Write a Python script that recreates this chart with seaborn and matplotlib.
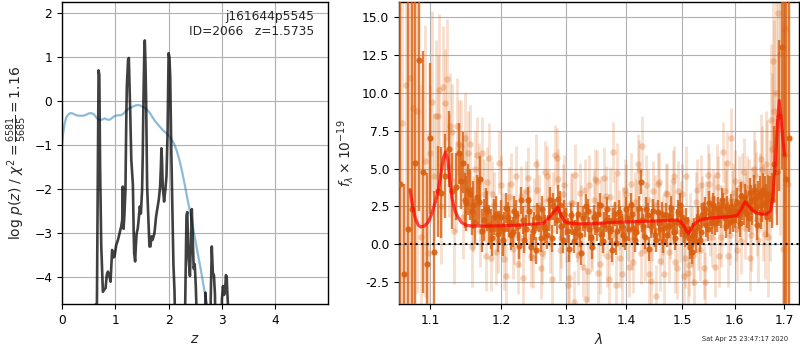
import numpy as np
import pandas as pd
import matplotlib
matplotlib.use("Agg")
import matplotlib.pyplot as plt
import seaborn as sns
from matplotlib.ticker import FixedLocator, FormatStrFormatter, NullLocator

# --- p(z) panel ---
z_pz = [0.00, 0.60, 0.63, 0.655, 0.670, 0.686, 0.700, 0.715, 0.736, 0.767, 0.790, 0.817,
        0.840, 0.861, 0.885, 0.911, 0.940, 0.965, 0.985, 1.017, 1.050, 1.080, 1.110, 1.130,
        1.140, 1.155, 1.170, 1.190, 1.205, 1.216, 1.240, 1.254, 1.270, 1.279, 1.300, 1.330,
        1.345, 1.354, 1.372, 1.385, 1.400, 1.420, 1.435, 1.460, 1.480, 1.503, 1.515, 1.528,
        1.545, 1.553, 1.565, 1.578, 1.597, 1.620, 1.640, 1.660, 1.678, 1.700, 1.734, 1.765,
        1.790, 1.815, 1.840, 1.855, 1.865, 1.875, 1.890, 1.915, 1.940, 1.960, 1.980, 2.000,
        2.015, 2.030, 2.050, 2.070, 2.090, 2.110, 2.130, 2.160, 2.280, 2.310, 2.335, 2.350,
        2.370, 2.400, 2.435, 2.450, 2.470, 2.490, 2.510, 2.530, 2.560, 2.660, 2.690, 2.720,
        2.760, 2.790, 2.810, 2.830, 2.850, 2.870, 2.900, 2.970, 3.000, 3.020, 3.040, 3.060,
        3.075, 3.090, 3.100, 3.120, 3.150, 5.000]
logpz = [-8, -4.9, -4.62, -4.6, -2.0, 0.70, 0.60, -1.5, -3.27, -4.33, -4.28, -4.25,
         -3.95, -3.87, -3.95, -4.10, -3.38, -3.55, -3.53, -3.27, -3.15, -3.0, -2.85, -2.70,
         -1.94, -2.9, -2.60, -2.03, -0.5, 0.33, 0.95, 0.98, 0.2, -0.2, -1.33, -1.9,
         -3.0, -3.45, -3.64, -3.3, -3.0, -2.9, -2.73, -2.39, -2.55, -2.0, -1.2, 0.03,
         1.2, 1.38, 0.9, 0.03, -1.94, -2.66, -3.3, -3.3, -3.07, -3.15, -3.0, -2.62,
         -2.43, -2.24, -1.95, -1.5, -1.07, -1.3, -1.94, -2.28, -2.0, -1.7, -0.73, 1.09,
         1.0, 0.56, -1.1, -2.4, -3.7, -4.3, -5.5, -8, -8, -4.7, -2.6, -2.52,
         -3.5, -3.97, -2.45, -3.0, -3.8, -3.7, -4.2, -5.0, -8, -8, -4.35, -5.0,
         -8, -4.5, -3.3, -3.9, -3.95, -4.4, -8, -8, -4.5, -4.2, -4.4, -4.3,
         -3.95, -4.0, -4.3, -4.8, -8, -8]

z_chi = [0.00, 0.02, 0.05, 0.08, 0.12, 0.16, 0.20, 0.25, 0.30, 0.35, 0.40, 0.45, 0.50,
         0.55, 0.60, 0.65, 0.70, 0.75, 0.80, 0.85, 0.90, 0.95, 1.00, 1.05, 1.10, 1.15,
         1.20, 1.25, 1.30, 1.35, 1.40, 1.45, 1.50, 1.55, 1.60, 1.65, 1.70, 1.75, 1.80,
         1.85, 1.90, 1.95, 2.00, 2.05, 2.10, 2.15, 2.20, 2.25, 2.30, 2.35, 2.40, 2.45,
         2.50, 2.55, 2.60, 2.65, 2.70, 2.75, 2.80]
chi_scaled = [-1.0, -0.75, -0.50, -0.37, -0.30, -0.27, -0.28, -0.31, -0.33, -0.33, -0.33,
              -0.31, -0.28, -0.27, -0.30, -0.38, -0.43, -0.42, -0.39, -0.42, -0.42, -0.37,
              -0.33, -0.32, -0.32, -0.29, -0.22, -0.17, -0.14, -0.11, -0.09, -0.09, -0.12,
              -0.15, -0.20, -0.27, -0.37, -0.46, -0.53, -0.60, -0.67, -0.72, -0.78, -0.86,
              -0.96, -1.12, -1.32, -1.58, -1.88, -2.20, -2.50, -2.82, -3.15, -3.48, -3.80,
              -4.15, -4.50, -4.85, -5.20]

# --- spectrum panel: binned (dark) points ---
wave_bin = [1.060, 1.065, 1.070, 1.075, 1.080, 1.085, 1.090, 1.095, 1.100, 1.105, 1.110,
            1.115, 1.120, 1.125, 1.130, 1.135, 1.140, 1.145, 1.150, 1.155, 1.160, 1.165,
            1.170, 1.175, 1.180, 1.185, 1.190, 1.195, 1.200, 1.205, 1.210, 1.215, 1.220,
            1.225, 1.230, 1.235, 1.240, 1.245, 1.250, 1.255, 1.260, 1.265, 1.270, 1.275,
            1.280, 1.285, 1.290, 1.295, 1.300, 1.305, 1.310, 1.315, 1.320, 1.325, 1.330,
            1.335, 1.340, 1.345, 1.350, 1.355, 1.360, 1.365, 1.370, 1.375, 1.380, 1.385,
            1.390, 1.395, 1.400, 1.405, 1.410, 1.415, 1.420, 1.425, 1.430, 1.435, 1.440,
            1.445, 1.450, 1.455, 1.460, 1.465, 1.470, 1.475, 1.480, 1.485, 1.490, 1.495,
            1.500, 1.505, 1.510, 1.515, 1.520, 1.525, 1.530, 1.535, 1.540, 1.545, 1.550,
            1.555, 1.560, 1.565, 1.570, 1.575, 1.580, 1.585, 1.590, 1.595, 1.600, 1.605,
            1.610, 1.615, 1.620, 1.625, 1.630, 1.635, 1.640, 1.645, 1.650, 1.655, 1.660,
            1.665, 1.670, 1.675, 1.680, 1.685, 1.690, 1.695, 1.700, 1.705, 1.710]
flux_bin = [4.0, -2.0, 1.0, 2.3, 5.4, 12.2, 4.8, -1.3, 7.0, -0.5, 3.5,
            3.4, 4.5, 6.3, 3.5, 3.8, 6.0, 5.4, 2.7, 3.3, 2.6, 3.1,
            4.3, 1.6, 2.2, 1.0, 1.8, 0.7, 1.8, 1.0, 1.8, 0.6, 2.2,
            1.2, 2.9, 0.3, 2.9, -0.2, 1.2, 1.8, 0.4, 1.2, 0.6, 2.9,
            2.5, 1.6, 2.6, 0.3, 1.5, -0.3, 1.4, 0.8, 2.0, -0.6, 1.3,
            2.2, 0.5, 1.8, 1.0, 2.6, 0.2, 1.6, 1.1, -0.4, 2.0, 0.9,
            1.7, 0.6, 2.3, 1.0, 2.0, 0.3, 1.5, 4.1, 1.2, 2.3, -0.3,
            1.5, 0.6, 2.1, 1.0, 0.2, 1.9, 1.2, 2.4, 0.8, 1.5, 2.6,
            1.8, 0.6, 1.0, -0.2, 0.6, 0.2, 1.7, 0.8, 2.0, 1.3, 2.7,
            1.5, 2.4, 1.6, 2.0, 2.9, 1.7, 2.4, 1.5, 2.2, 1.9, 2.8,
            1.4, 2.5, 3.1, 2.0, 3.4, 2.3, 3.0, 1.3, 3.4, 2.6, 3.3,
            1.8, 3.0, 2.9, 5.3, 4.8, 8.5, 13.0, 5.9, 4.3, 7.0]
err_bin = [30, 6, 25, 15, 13, 10, 8, 6, 5, 4, 3,
           3, 2.8, 2.5, 2.5, 2.2, 2.0, 2.0, 1.8, 1.7, 1.6, 1.5,
           1.5, 1.4, 1.3, 1.3, 1.2, 1.2, 1.1, 1.1, 1.0, 1.0, 1.0,
           1.0, 0.9, 0.9, 0.9, 0.9, 0.9, 0.9, 0.9, 0.9, 0.9, 0.9,
           0.9, 0.9, 0.9, 0.9, 0.9, 0.9, 0.8, 0.8, 0.8, 0.8, 0.8,
           0.8, 0.8, 0.8, 0.8, 0.8, 0.8, 0.8, 0.8, 0.8, 0.8, 0.8,
           0.8, 0.8, 0.8, 0.8, 0.8, 0.8, 0.8, 0.8, 0.8, 0.8, 0.8,
           0.8, 0.8, 0.8, 0.8, 0.8, 0.8, 0.8, 0.8, 0.8, 0.8, 0.8,
           0.8, 0.8, 0.8, 0.8, 0.8, 0.8, 0.8, 0.8, 0.8, 0.8, 0.8,
           0.8, 0.8, 0.8, 0.8, 0.8, 0.8, 0.8, 0.8, 0.8, 0.8, 0.9,
           0.9, 0.9, 0.9, 0.9, 1.0, 1.0, 1.0, 1.0, 1.1, 1.1, 1.2,
           1.3, 1.5, 1.8, 2.5, 3.5, 5, 8, 12, 15, 15]

# second set of binned points (other half of the bins)
wave_bin2 = [1.1425, 1.1475, 1.1525, 1.1575, 1.1625, 1.1675, 1.1725, 1.1775, 1.1825, 1.1875,
             1.1925, 1.1975, 1.2025, 1.2075, 1.2125, 1.2175, 1.2225, 1.2275, 1.2325, 1.2375,
             1.2425, 1.2475, 1.2525, 1.2575, 1.2625, 1.2675, 1.2725, 1.2775, 1.2825, 1.2875,
             1.2925, 1.2975, 1.3025, 1.3075, 1.3125, 1.3175, 1.3225, 1.3275, 1.3325, 1.3375,
             1.3425, 1.3475, 1.3525, 1.3575, 1.3625, 1.3675, 1.3725, 1.3775, 1.3825, 1.3875,
             1.3925, 1.3975, 1.4025, 1.4075, 1.4125, 1.4175, 1.4225, 1.4275, 1.4325, 1.4375,
             1.4425, 1.4475, 1.4525, 1.4575, 1.4625, 1.4675, 1.4725, 1.4775, 1.4825, 1.4875,
             1.4925, 1.4975, 1.5025, 1.5075, 1.5125, 1.5175, 1.5225, 1.5275, 1.5325, 1.5375,
             1.5425, 1.5475, 1.5525, 1.5575, 1.5625, 1.5675, 1.5725, 1.5775, 1.5825, 1.5875,
             1.5925, 1.5975, 1.6025, 1.6075, 1.6125, 1.6175, 1.6225, 1.6275, 1.6325, 1.6375,
             1.6425, 1.6475, 1.6525, 1.6575, 1.6625, 1.6675]
flux_bin2 = [4.2, 2.9, 3.6, 2.2, 1.5, 2.8, 0.9, 2.4, 1.3, 0.4,
             2.0, 1.1, 0.3, 2.4, 1.5, 0.8, 1.9, -0.1, 1.6, 1.0,
             2.2, 0.9, -0.4, 1.7, 2.3, 1.0, 1.8, 0.4, 2.1, 3.0,
             1.2, 2.0, 0.9, 1.9, 0.2, 1.1, 0.6, 1.7, 2.5, 1.0,
             -0.2, 1.4, 2.0, 0.7, 1.3, 2.3, 0.9, 1.6, 0.1, 2.1,
             1.2, 0.4, 1.7, 2.6, 1.1, 0.8, 2.4, 1.6, 0.5, 1.9,
             1.2, 2.2, 0.3, 1.4, 2.0, 1.1, 0.6, 1.8, 1.4, 0.4,
             2.1, 1.3, 0.9, 1.6, 0.4, -0.5, 0.9, 1.2, 0.3, 1.9,
             2.3, 1.0, 2.0, 2.6, 1.4, 2.3, 1.9, 2.6, 1.2, 2.0,
             2.5, 1.6, 2.2, 1.9, 3.2, 2.2, 2.7, 1.7, 2.9, 3.6,
             2.5, 3.2, 2.1, 3.6, 2.8, 3.3]
err_bin2 = [1.9, 1.8, 1.7, 1.6, 1.5, 1.5, 1.4, 1.3, 1.3, 1.2,
            1.2, 1.1, 1.1, 1.0, 1.0, 1.0, 1.0, 0.9, 0.9, 0.9,
            0.9, 0.9, 0.9, 0.9, 0.9, 0.9, 0.9, 0.9, 0.9, 0.9,
            0.9, 0.9, 0.8, 0.8, 0.8, 0.8, 0.8, 0.8, 0.8, 0.8,
            0.8, 0.8, 0.8, 0.8, 0.8, 0.8, 0.8, 0.8, 0.8, 0.8,
            0.8, 0.8, 0.8, 0.8, 0.8, 0.8, 0.8, 0.8, 0.8, 0.8,
            0.8, 0.8, 0.8, 0.8, 0.8, 0.8, 0.8, 0.8, 0.8, 0.8,
            0.8, 0.8, 0.8, 0.8, 0.8, 0.8, 0.8, 0.8, 0.8, 0.8,
            0.8, 0.8, 0.8, 0.8, 0.8, 0.8, 0.8, 0.8, 0.8, 0.8,
            0.8, 0.8, 0.8, 0.9, 0.9, 0.9, 0.9, 0.9, 1.0, 1.0,
            1.0, 1.0, 1.1, 1.1, 1.2, 1.3]

# --- spectrum panel: unbinned (light) points ---
wave_raw = [1.0625, 1.0675, 1.0725, 1.0775, 1.0825, 1.0875, 1.0925, 1.0975, 1.1025, 1.1075,
            1.1125, 1.1175, 1.1225, 1.1275, 1.1325, 1.1375, 1.1425, 1.1475, 1.1525, 1.1575,
            1.1625, 1.1675, 1.1725, 1.1775, 1.1825, 1.1875, 1.1925, 1.1975, 1.2025, 1.2075,
            1.2125, 1.2175, 1.2225, 1.2275, 1.2325, 1.2375, 1.2425, 1.2475, 1.2525, 1.2575,
            1.2625, 1.2675, 1.2725, 1.2775, 1.2825, 1.2875, 1.2925, 1.2975, 1.3025, 1.3075,
            1.3125, 1.3175, 1.3225, 1.3275, 1.3325, 1.3375, 1.3425, 1.3475, 1.3525, 1.3575,
            1.3625, 1.3675, 1.3725, 1.3775, 1.3825, 1.3875, 1.3925, 1.3975, 1.4025, 1.4075,
            1.4125, 1.4175, 1.4225, 1.4275, 1.4325, 1.4375, 1.4425, 1.4475, 1.4525, 1.4575,
            1.4625, 1.4675, 1.4725, 1.4775, 1.4825, 1.4875, 1.4925, 1.4975, 1.5025, 1.5075,
            1.5125, 1.5175, 1.5225, 1.5275, 1.5325, 1.5375, 1.5425, 1.5475, 1.5525, 1.5575,
            1.5625, 1.5675, 1.5725, 1.5775, 1.5825, 1.5875, 1.5925, 1.5975, 1.6025, 1.6075,
            1.6125, 1.6175, 1.6225, 1.6275, 1.6325, 1.6375, 1.6425, 1.6475, 1.6525, 1.6575,
            1.6625, 1.6675, 1.6725, 1.6775, 1.6825, 1.6875, 1.6925, 1.6975, 1.7025, 1.7075]
flux_raw = [8.0, 10.5, 11.0, 9.0, 8.8, 0.5, 5.5, -0.6, 9.4, 8.5,
            10.2, 10.4, 10.9, 7.8, 0.9, 7.8, 6.5, 7.0, 6.0, -0.2,
            5.0, 4.2, 6.0, -0.8, 5.7, 3.3, -0.5, 5.4, 1.3, -2.1,
            3.1, -0.3, 4.5, 0.5, -2.2, 3.5, 1.9, -0.9, 5.3, 2.6,
            -0.6, 4.8, 3.0, -2.3, 5.9, 4.3, 0.4, 3.9, -2.7, 2.7,
            -3.8, 0.8, 3.4, -1.5, -3.6, 3.9, 0.2, 4.3, -1.9, 2.5,
            4.4, -0.8, 3.1, 6.1, -2.7, 1.6, -2.0, 3.6, 0.9, 4.0,
            -1.2, 2.3, 4.9, 6.5, -0.4, 2.9, -2.4, 3.5, -3.4, 4.1,
            0.6, -2.0, 3.3, 1.0, 4.2, -1.2, 3.5, 2.2, -2.1, 4.5,
            -1.4, 0.5, -2.5, 3.6, -0.4, 2.5, -2.5, 4.6, 1.2, 3.0,
            -1.5, 3.8, 0.5, 6.1, 2.9, -0.8, 7.0, 3.4, 1.0, 3.7,
            0.2, 4.8, 2.4, 3.3, 0.6, 5.0, 3.5, 0.3, 5.6, 2.1,
            5.3, 0.5, 8.2, 12.1, 10.0, 15.3, 12.6, -0.3, 14.2, 4.0]
err_raw = [30, 25, 20, 15, 12, 10, 9, 8, 6, 5,
           5, 4, 4, 3.5, 3.5, 3.2, 3.0, 3.0, 2.8, 2.6,
           2.5, 2.5, 2.4, 2.3, 2.3, 2.2, 2.2, 2.1, 2.1, 2.1,
           2.0, 2.0, 2.0, 2.0, 2.0, 2.0, 2.0, 2.0, 2.0, 2.0,
           2.0, 2.0, 2.0, 2.0, 2.0, 2.0, 2.0, 2.0, 2.0, 2.0,
           2.0, 2.0, 2.0, 2.0, 2.0, 2.0, 2.0, 2.0, 2.0, 2.0,
           2.0, 2.0, 2.0, 2.0, 2.0, 2.0, 2.0, 2.0, 2.0, 2.0,
           2.0, 2.0, 2.0, 2.0, 2.0, 2.0, 2.0, 2.0, 2.0, 2.0,
           2.0, 2.0, 2.0, 2.0, 2.0, 2.0, 2.0, 2.0, 2.0, 2.0,
           2.0, 2.0, 2.0, 2.0, 2.0, 2.0, 2.0, 2.0, 2.0, 2.0,
           2.0, 2.0, 2.0, 2.0, 2.0, 2.0, 2.0, 2.0, 2.1, 2.1,
           2.2, 2.2, 2.3, 2.3, 2.4, 2.5, 2.6, 2.8, 3.0, 3.2,
           3.5, 4, 5, 6, 8, 10, 12, 15, 18, 20]

wave_raw2 = [1.100, 1.105, 1.110, 1.115, 1.120, 1.125, 1.130, 1.135, 1.140, 1.145,
             1.150, 1.155, 1.160, 1.165, 1.170, 1.175, 1.180, 1.185, 1.190, 1.195,
             1.200, 1.205, 1.210, 1.215, 1.220, 1.225, 1.230, 1.235, 1.240, 1.245,
             1.250, 1.255, 1.260, 1.265, 1.270, 1.275, 1.280, 1.285, 1.290, 1.295,
             1.300, 1.305, 1.310, 1.315, 1.320, 1.325, 1.330, 1.335, 1.340, 1.345,
             1.350, 1.355, 1.360, 1.365, 1.370, 1.375, 1.380, 1.385, 1.390, 1.395,
             1.400, 1.405, 1.410, 1.415, 1.420, 1.425, 1.430, 1.435, 1.440, 1.445,
             1.450, 1.455, 1.460, 1.465, 1.470, 1.475, 1.480, 1.485, 1.490, 1.495,
             1.500, 1.505, 1.510, 1.515, 1.520, 1.525, 1.530, 1.535, 1.540, 1.545,
             1.550, 1.555, 1.560, 1.565, 1.570, 1.575, 1.580, 1.585, 1.590, 1.595,
             1.600, 1.605, 1.610, 1.615, 1.620, 1.625, 1.630, 1.635, 1.640, 1.645,
             1.650, 1.655, 1.660, 1.665, 1.670, 1.675, 1.680]
flux_raw2 = [6.0, 4.5, 8.5, 2.5, 9.3, 5.2, 7.4, 3.8, 6.6, 1.8,
             4.7, 6.6, 2.0, 5.9, 0.9, 3.3, 4.1, -0.9, 2.6, 0.2,
             3.9, -1.0, 2.1, 4.0, 0.7, -1.3, 3.2, 1.6, 4.4, -0.8,
             2.4, 3.6, -1.6, 1.0, 4.5, 0.1, 2.8, 5.7, -0.4, 3.3,
             0.8, -2.2, 2.7, 4.6, -0.7, 1.9, 3.6, -1.8, 0.4, 2.9,
             4.2, -1.3, 1.2, 3.2, -2.3, 0.6, 2.5, 4.7, -0.9, 1.8,
             3.3, -1.5, 0.3, 2.8, 5.3, -0.6, 1.7, 3.9, -2.0, 0.9,
             2.6, 4.0, -1.1, 1.3, 3.4, -0.5, 2.0, 4.5, -1.6, 0.8,
             3.3, -0.9, -1.9, 1.4, -0.7, 2.8, 0.3, 3.9, -1.6, 2.2,
             4.0, 0.5, 2.6, 4.6, -0.8, 1.9, 3.5, 5.4, 0.6, 2.9,
             4.2, -0.4, 2.3, 4.0, 1.1, 3.7, -0.9, 2.9, 4.6, 1.6,
             3.4, 5.0, 0.7, 4.8, 2.9, 6.3, 8.8]
err_raw2 = [4.5, 4.2, 4.0, 3.8, 3.6, 3.4, 3.2, 3.0, 2.9, 2.8,
            2.7, 2.6, 2.5, 2.5, 2.4, 2.3, 2.3, 2.2, 2.2, 2.1,
            2.0, 2.0, 2.0, 2.0, 2.0, 2.0, 2.0, 2.0, 2.0, 2.0,
            2.0, 2.0, 2.0, 2.0, 2.0, 2.0, 2.0, 2.0, 2.0, 2.0,
            2.0, 2.0, 2.0, 2.0, 2.0, 2.0, 2.0, 2.0, 2.0, 2.0,
            2.0, 2.0, 2.0, 2.0, 2.0, 2.0, 2.0, 2.0, 2.0, 2.0,
            2.0, 2.0, 2.0, 2.0, 2.0, 2.0, 2.0, 2.0, 2.0, 2.0,
            2.0, 2.0, 2.0, 2.0, 2.0, 2.0, 2.0, 2.0, 2.0, 2.0,
            2.0, 2.0, 2.0, 2.0, 2.0, 2.0, 2.0, 2.0, 2.0, 2.0,
            2.0, 2.0, 2.0, 2.0, 2.0, 2.0, 2.0, 2.0, 2.0, 2.0,
            2.0, 2.0, 2.0, 2.0, 2.1, 2.1, 2.2, 2.2, 2.3, 2.4,
            2.6, 2.8, 3.0, 3.4, 4.0, 5.0, 6.0]

# --- best-fit model ---
wave_model = [1.073, 1.076, 1.080, 1.084, 1.087, 1.092, 1.097, 1.102, 1.107, 1.111, 1.115,
              1.118, 1.121, 1.124, 1.127, 1.130, 1.134, 1.138, 1.143, 1.150, 1.160, 1.180,
              1.200, 1.220, 1.240, 1.255, 1.265, 1.272, 1.280, 1.287, 1.292, 1.298, 1.305,
              1.320, 1.340, 1.360, 1.380, 1.400, 1.420, 1.440, 1.460, 1.480, 1.490, 1.497,
              1.503, 1.508, 1.512, 1.516, 1.521, 1.528, 1.538, 1.550, 1.570, 1.590, 1.605,
              1.613, 1.620, 1.626, 1.635, 1.645, 1.655, 1.665, 1.672, 1.677, 1.682, 1.686,
              1.690, 1.694, 1.698, 1.701]
flux_model = [3.6, 2.6, 1.7, 1.25, 1.15, 1.2, 1.45, 2.0, 2.8, 3.6, 4.8,
              5.7, 6.1, 5.6, 4.2, 3.0, 2.2, 1.8, 1.45, 1.25, 1.2, 1.2,
              1.22, 1.25, 1.3, 1.35, 1.40, 1.7, 2.1, 2.45, 1.9, 1.5, 1.4,
              1.35, 1.35, 1.4, 1.45, 1.47, 1.5, 1.52, 1.55, 1.58, 1.6, 1.5,
              1.2, 0.85, 0.7, 1.0, 1.3, 1.5, 1.65, 1.72, 1.78, 1.82, 1.9,
              2.3, 2.8, 2.6, 2.25, 2.05, 1.98, 2.0, 2.2, 3.2, 5.5, 7.8,
              9.5, 8.3, 6.8, 5.9]

obj_name = "j161644p5545"
obj_id = 2066
z_best = 1.5735
spec_color = "#d95f0e"

sns.set_style("ticks")
plt.rcParams.update({
    "font.family": ["DejaVu Sans"],
    "axes.edgecolor": "black",
    "axes.linewidth": 1.0,
    "xtick.color": "black",
    "ytick.color": "black",
    "xtick.labelsize": 8.8,
    "ytick.labelsize": 8.8,
    "xtick.major.size": 3.5,
    "ytick.major.size": 3.5,
    "grid.color": "#b0b0b0",
    "grid.linewidth": 0.8,
})

fig = plt.figure(figsize=(8, 3.5), dpi=100)
ax1 = fig.add_axes([0.0775, 0.131, 0.3325, 0.863])
ax2 = fig.add_axes([0.49875, 0.131, 0.5, 0.863])

# left: p(z)
pz_df = pd.DataFrame({"z": z_pz, "logp": logpz})
chi_df = pd.DataFrame({"z": z_chi, "chi": chi_scaled})
sns.lineplot(data=chi_df, x="z", y="chi", ax=ax1, color="#1f77b4", alpha=0.5,
             lw=1.6, sort=False, estimator=None)
sns.lineplot(data=pz_df, x="z", y="logp", ax=ax1, color="k", alpha=0.75,
             lw=1.9, sort=False, estimator=None)
ax1.set_xlim(0, 4.99)
ax1.set_ylim(-4.61, 2.25)
ax1.set_yticks(range(-4, 3))
ax1.set_xticks(range(0, 5))
ax1.grid(True)
ax1.set_xlabel("$z$", fontsize=10)
ax1.set_ylabel(r"log $p(z)$ / $\chi^2=\frac{6581}{5685}=1.16$", fontsize=10)
ax1.text(0.947, 0.975, f"{obj_name}\nID={obj_id}   z={z_best:.4f}",
         transform=ax1.transAxes, ha="right", va="top", fontsize=8.8)

# right: spectrum
raw_df = pd.DataFrame({"wave": wave_raw + wave_raw2, "flux": flux_raw + flux_raw2,
                       "err": err_raw + err_raw2})
bin_df = pd.DataFrame({"wave": wave_bin + wave_bin2, "flux": flux_bin + flux_bin2,
                       "err": err_bin + err_bin2})
model_df = pd.DataFrame({"wave": wave_model, "flux": flux_model})

ax2.errorbar(raw_df["wave"], raw_df["flux"], yerr=raw_df["err"], fmt="none",
             ecolor=spec_color, alpha=0.2, elinewidth=2.0, zorder=1)
sns.scatterplot(data=raw_df, x="wave", y="flux", ax=ax2, color=spec_color, alpha=0.28,
                s=22, linewidth=0, zorder=2)
ax2.errorbar(bin_df["wave"], bin_df["flux"], yerr=bin_df["err"], fmt="none",
             ecolor=spec_color, alpha=0.8, elinewidth=1.7, zorder=3)
sns.scatterplot(data=bin_df, x="wave", y="flux", ax=ax2, color=spec_color, alpha=0.9,
                s=20, linewidth=0, zorder=4)
sns.lineplot(data=model_df, x="wave", y="flux", ax=ax2, color="r", alpha=0.7,
             lw=2.3, sort=False, estimator=None, zorder=5)
ax2.axhline(0, color="k", ls=":", lw=1.5, zorder=6)

ax2.set_xscale("log")
ax2.set_xlim(1.0585, 1.7317)
ax2.xaxis.set_major_locator(FixedLocator([1.1, 1.2, 1.3, 1.4, 1.5, 1.6, 1.7]))
ax2.xaxis.set_major_formatter(FormatStrFormatter("%.1f"))
ax2.xaxis.set_minor_locator(NullLocator())
ax2.set_ylim(-3.96, 16.0)
ax2.set_yticks([-2.5, 0, 2.5, 5, 7.5, 10, 12.5, 15])
ax2.yaxis.set_major_formatter(FormatStrFormatter("%.1f"))
ax2.grid(True)
ax2.set_xlabel(r"$\lambda$", fontsize=10)
ax2.set_ylabel(r"$f_\lambda\times10^{-19}$", fontsize=10)

fig.text(0.985, 0.031, "Sat Apr 25 23:47:17 2020", ha="right", va="center", fontsize=4.8)

fig.savefig("out.png", dpi=100)
